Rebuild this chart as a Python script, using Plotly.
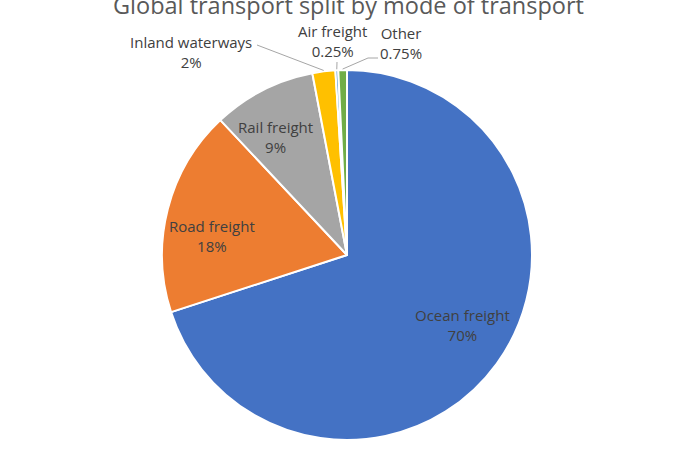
import numpy as np
import plotly.graph_objects as go

# --- data ---
modes = ['Ocean freight', 'Road freight', 'Rail freight', 'Inland waterways', 'Air freight', 'Other']
shares = [70, 18, 9, 2, 0.25, 0.75]
share_text = ['70%', '18%', '9%', '2%', '0.25%', '0.75%']
slice_colors = ['#4472C4', '#ED7D31', '#A5A5A5', '#FFC000', '#5B9BD5', '#70AD47']

W, H = 693, 461
CX, CY, R = 347, 255, 185          # pie centre / radius in pixels
TEXT = '#404040'
FONT = 'Open Sans'

# label anchors (pixels) - like Excel's best-fit placement
label_xy = [(462, 325), (212, 236), (275, 137), (191, 52), (332, 41), (401, 43)]
# leader lines for the tiny slices: index -> (elbow, tail) in pixels
leaders = {3: [(257, 45), (257, 45)], 4: [(337, 62), (337, 62)], 5: [(368, 58), (378, 58)]}


def px(x):
    return x / W


def py(y):
    return 1 - y / H


fig = go.Figure(go.Pie(
    labels=modes,
    values=shares,
    sort=False,
    direction='clockwise',
    rotation=0,
    marker=dict(colors=slice_colors, line=dict(color='white', width=2)),
    textinfo='none',
    showlegend=False,
    hoverinfo='label+percent',
    domain=dict(x=[px(CX - R), px(CX + R)], y=[py(CY + R), py(CY - R)]),
))

# slice labels
for name, pct, (lx, ly) in zip(modes, share_text, label_xy):
    fig.add_annotation(x=px(lx), y=py(ly), xref='paper', yref='paper',
                       text=f'{name}<br>{pct}', showarrow=False,
                       xanchor='center', yanchor='middle', align='center',
                       font=dict(family=FONT, size=15, color=TEXT))

# leader lines: tip sits on the rim at the middle of each small slice
cum = np.cumsum(shares) / sum(shares)
for i, (elbow, tail) in leaders.items():
    mid = cum[i] - shares[i] / sum(shares) / 2
    ang = 2 * np.pi * mid
    tx, ty = CX + (R + 1) * np.sin(ang), CY - (R + 1) * np.cos(ang)
    path = f'M {px(tx)} {py(ty)} L {px(elbow[0])} {py(elbow[1])} L {px(tail[0])} {py(tail[1])}'
    fig.add_shape(type='path', path=path, xref='paper', yref='paper',
                  line=dict(color='#a6a6a6', width=1))

# title (clipped at the top edge, as in the source image)
fig.add_annotation(text='Global transport split by mode of transport',
                   x=px(348), y=py(23), xref='paper', yref='paper',
                   xanchor='center', yanchor='bottom', showarrow=False,
                   font=dict(family=FONT, size=23.5, color='#595959'))

fig.update_layout(
    width=W, height=H,
    margin=dict(l=0, r=0, t=0, b=0),
    paper_bgcolor='white',
    plot_bgcolor='white',
)

# drop the default 8px body margin so the figure fills the window
fig.write_html('out.html', config={'displayModeBar': False},
               post_script="document.body.style.margin = '0';")
